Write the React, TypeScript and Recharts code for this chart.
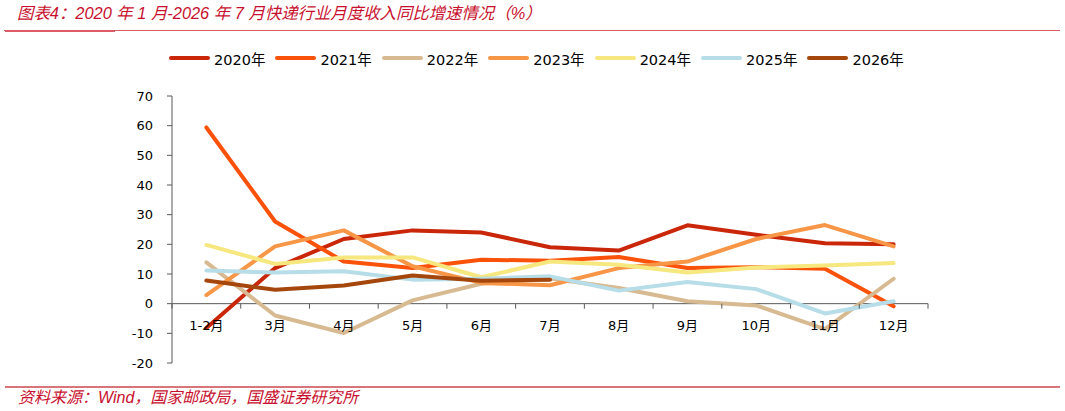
import React from 'react';
import { LineChart, Line, XAxis, YAxis, ReferenceLine } from 'recharts';

const months = ['1-2月', '3月', '4月', '5月', '6月', '7月', '8月', '9月', '10月', '11月', '12月'];
const y2020 = [-8.2, 12.0, 21.8, 24.7, 24.0, 19.0, 17.9, 26.4, 23.2, 20.4, 20.0];
const y2021 = [59.4, 27.7, 14.2, 12.0, 14.8, 14.5, 15.7, 12.0, 12.3, 11.8, -0.9];
const y2022 = [13.9, -4.0, -9.9, 1.1, 6.7, 8.5, 5.3, 0.8, -0.6, -8.6, 8.4];
const y2023 = [2.9, 19.3, 24.7, 12.6, 7.0, 6.2, 12.0, 14.2, 21.8, 26.5, 19.3];
const y2024 = [19.8, 13.4, 15.6, 15.6, 8.9, 14.2, 13.1, 10.5, 12.2, 12.9, 13.7];
const y2025 = [11.2, 10.5, 10.9, 8.1, 8.4, 9.2, 4.4, 7.3, 4.9, -3.3, 0.8];
const y2026 = [7.8, 4.7, 6.1, 9.5, 7.7, 8.1, null, null, null, null, null];

const seriesNames = ['2020年', '2021年', '2022年', '2023年', '2024年', '2025年', '2026年'];
const seriesValues = [y2020, y2021, y2022, y2023, y2024, y2025, y2026];
const seriesColors = ['#C9260A', '#FA520A', '#D8BA92', '#F79646', '#F6E77E', '#B7DDE8', '#A5470D'];

const yTicks = [-20, -10, 0, 10, 20, 30, 40, 50, 60, 70];
const Y_MIN = -20;
const Y_MAX = 70;

const data = months.map((m, i) => {
  const row: Record<string, any> = { month: m };
  seriesNames.forEach((n, k) => {
    row[n] = seriesValues[k][i];
  });
  return row;
});

const W = 1065;
const H = 411;
const M_TOP = 96;
const M_RIGHT = 137;
const M_BOTTOM = 28;
const M_LEFT = 112;
const Y_AXIS_W = 60;
const X_AXIS_H = 20;
const PLOT_TOP = M_TOP;
const PLOT_H = H - M_TOP - M_BOTTOM - X_AXIS_H;
const PLOT_W = W - M_LEFT - Y_AXIS_W - M_RIGHT;
const AXIS_COLOR = '#595959';
const FONT = '"DejaVu Sans", "Noto Sans CJK SC", sans-serif';
const CAPTION_FONT = '"Liberation Sans", "Noto Sans CJK SC", sans-serif';
const CAPTION_COLOR = '#C8102E';

const XTick = (props: any) => {
  const { x, payload, index } = props;
  const zeroY = PLOT_TOP + (PLOT_H * (Y_MAX - 0)) / (Y_MAX - Y_MIN);
  const bw = PLOT_W / months.length;
  return (
    <g>
      {index === 0 && (
        <line x1={x - bw / 2} y1={zeroY} x2={x - bw / 2} y2={zeroY + 5} stroke={AXIS_COLOR} />
      )}
      <line x1={x + bw / 2} y1={zeroY} x2={x + bw / 2} y2={zeroY + 5} stroke={AXIS_COLOR} />
      <text
        x={x}
        y={zeroY + 22}
        textAnchor="middle"
        dominantBaseline="central"
        fontSize={13}
        fontFamily={FONT}
        fill="#000"
      >
        {payload.value}
      </text>
    </g>
  );
};

export default function App() {
  return (
    <div
      style={{
        position: 'absolute',
        top: 0,
        left: 0,
        width: W,
        height: H,
        background: '#fff',
        overflow: 'hidden',
      }}
    >
      <div
        style={{
          position: 'absolute',
          left: 17,
          top: 3,
          lineHeight: '20px',
          fontSize: 16.4,
          fontStyle: 'italic',
          color: CAPTION_COLOR,
          fontFamily: CAPTION_FONT,
          whiteSpace: 'nowrap',
        }}
      >
        图表4：2020 年 1 月-2026 年 7 月快递行业月度收入同比增速情况（%）
      </div>
      <div style={{ position: 'absolute', left: 4, top: 30, width: 1056, height: 1, background: '#DB5C64' }} />
      <div style={{ position: 'absolute', left: 5, top: 30, width: 110, height: 2, background: '#DB5C64' }} />

      <div
        style={{
          position: 'absolute',
          left: 169,
          top: 48,
          height: 20,
          display: 'flex',
          alignItems: 'center',
          whiteSpace: 'nowrap',
        }}
      >
        {seriesNames.map((n, k) => (
          <div key={n} style={{ display: 'flex', alignItems: 'center', marginRight: 10 }}>
            <div
              style={{
                width: 41,
                height: 4,
                borderRadius: 2,
                background: seriesColors[k],
                marginRight: 4,
              }}
            />
            <span style={{ fontSize: 14.5, fontFamily: FONT, color: '#000' }}>{n}</span>
          </div>
        ))}
      </div>

      <div style={{ position: 'absolute', left: 0, top: 0 }}>
        <LineChart
          width={W}
          height={H}
          data={data}
          margin={{ top: M_TOP, right: M_RIGHT, bottom: M_BOTTOM, left: M_LEFT }}
        >
          <XAxis
            dataKey="month"
            scale="band"
            height={X_AXIS_H}
            axisLine={false}
            tickLine={false}
            interval={0}
            tick={<XTick />}
          />
          <YAxis
            width={Y_AXIS_W}
            domain={[Y_MIN, Y_MAX]}
            ticks={yTicks}
            interval={0}
            allowDataOverflow
            axisLine={{ stroke: AXIS_COLOR }}
            tickLine={{ stroke: AXIS_COLOR }}
            tickSize={5}
            tickMargin={14}
            tick={{ fontSize: 13, fontFamily: FONT, fill: '#000' }}
          />
          <ReferenceLine y={0} stroke={AXIS_COLOR} strokeWidth={1} />
          {seriesNames.map((n, k) => (
            <Line
              key={n}
              type="linear"
              dataKey={n}
              stroke={seriesColors[k]}
              strokeWidth={4}
              strokeLinecap="round"
              strokeLinejoin="round"
              dot={false}
              activeDot={false}
              connectNulls={false}
              isAnimationActive={false}
            />
          ))}
        </LineChart>
      </div>

      <div style={{ position: 'absolute', left: 5, top: 386, width: 1055, height: 2, background: '#D9747A' }} />
      <div
        style={{
          position: 'absolute',
          left: 18,
          top: 388,
          lineHeight: '20px',
          fontSize: 16,
          fontStyle: 'italic',
          color: CAPTION_COLOR,
          fontFamily: CAPTION_FONT,
          whiteSpace: 'nowrap',
        }}
      >
        资料来源：Wind，国家邮政局，国盛证券研究所
      </div>
    </div>
  );
}
